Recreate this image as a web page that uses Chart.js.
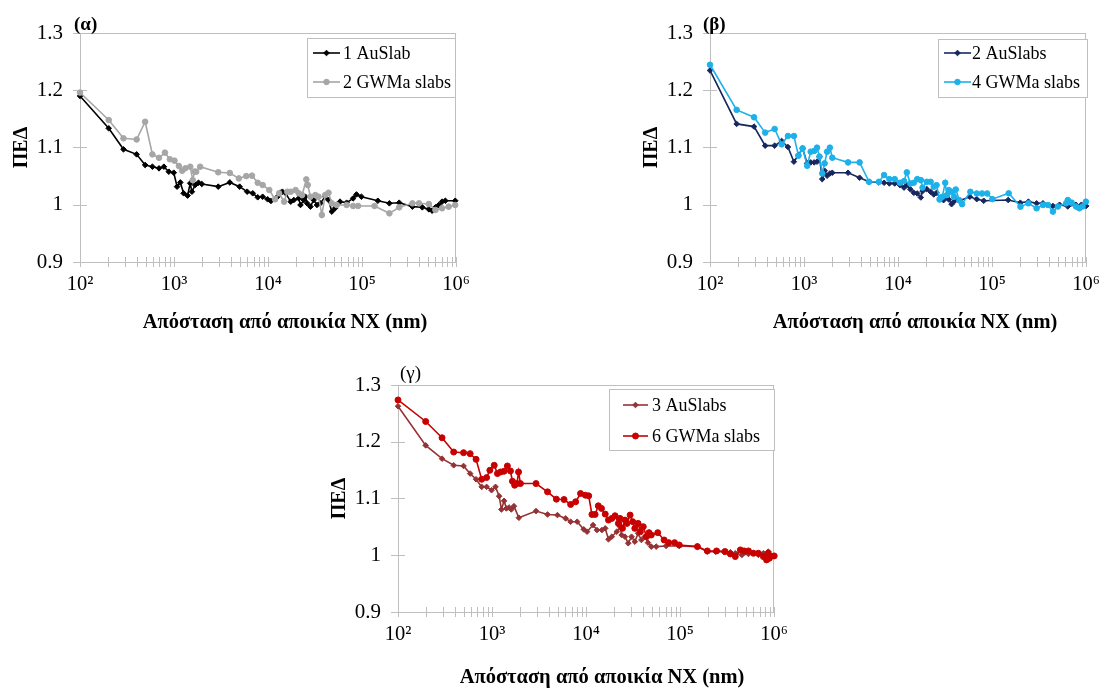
<!DOCTYPE html>
<html><head><meta charset="utf-8">
<script src="https://cdn.jsdelivr.net/npm/chart.js@4.4.1/dist/chart.umd.min.js"></script>
<style>
html,body{margin:0;padding:0;background:#fff;width:1115px;height:688px;overflow:hidden;position:relative;}
.panel{position:absolute;display:block;}
</style></head>
<body>
<canvas id="pa" class="panel" width="480" height="345" style="left:0;top:0;width:480px;height:345px"></canvas>
<canvas id="pb" class="panel" width="480" height="345" style="left:630px;top:0;width:480px;height:345px"></canvas>
<canvas id="pg" class="panel" width="480" height="338" style="left:318px;top:350px;width:480px;height:338px"></canvas>
<script>
// ---------- data ----------
const xMajorTicks = [1e2, 1e3, 1e4, 1e5, 1e6];
const xTickLabels = ['10²', '10³', '10⁴', '10⁵', '10⁶'];
const yMin = 0.9, yMax = 1.3, yStep = 0.1;
const xTitle = 'Απόσταση από αποικία NX (nm)';
const yTitle = 'ΠΕΔ';
const panelLabels = ['(α)', '(β)', '(γ)'];
const seriesNames = ['1 AuSlab', '2 GWMa slabs', '2 AuSlabs', '4 GWMa slabs', '3 AuSlabs', '6 GWMa slabs'];

// (α) 1 AuSlab
const a1x = [100,202,290,400,493,589,692,780,880,993,1077,1166,1265,1393,1486,1549,1679,1820,1972,2951,3916,4980,5995,6870,7760,8750,9890,10720,12600,13500,14200,15400,17400,18800,21200,22100,24000,24900,26000,28200,30500,33100,35900,40500,43900,47600,51500,58200,68400,80300,87100,98200,146900,194800,247900,342500,436200,511900,555600,602100,653000,707400,767000,977000];
const a1y = [1.190,1.1335,1.0968,1.088,1.0694,1.0665,1.0636,1.0665,1.0577,1.056,1.0316,1.039,1.020,1.016,1.0375,1.0228,1.0345,1.0385,1.0362,1.0316,1.039,1.0316,1.0228,1.020,1.013,1.014,1.0095,1.0066,1.014,1.021,1.0228,1.020,1.0054,1.0083,1.0112,0.9996,1.0083,1.0141,1.0025,0.9967,1.0083,0.9996,1.0025,1.0141,1.0083,0.988,0.9938,1.0054,1.0036,1.0112,1.018,1.0141,1.007,1.0025,1.0036,0.9967,0.9955,0.992,0.9896,0.9955,0.9996,1.0054,1.007,1.007];
// (α) 2 GWMa slabs
const a2x = [100,202,290,400,493,589,692,800,903,1010,1125,1220,1318,1486,1580,1650,1720,1895,2951,3916,4890,5860,6740,7760,8750,10300,11870,13100,14800,16000,17400,19600,21200,23000,25500,26400,28200,31800,34400,37300,40500,43900,47600,53700,68400,80300,90600,135500,194800,247900,342500,402500,511900,602100,707400,832000,977000];
const a2y = [1.196,1.148,1.116,1.114,1.145,1.088,1.082,1.091,1.0794,1.077,1.0677,1.0595,1.0637,1.0665,1.043,1.058,1.0577,1.0665,1.0567,1.0555,1.046,1.050,1.0508,1.0385,1.0345,1.0258,1.0095,1.020,1.0054,1.0228,1.0228,1.0257,1.020,1.017,1.0443,1.0344,1.0141,1.017,1.0141,0.9822,1.017,1.021,1.0025,0.9996,0.9996,0.9979,0.9979,0.9979,0.985,0.9955,1.0025,1.0025,1.0013,0.9909,0.9938,0.9967,0.9996];
// (β) 2 AuSlabs
const b1x = [100,192,294,386,487,578,674,780,872,966,1080,1177,1282,1374,1459,1561,1656,1758,1882,1997,2937,3897,4911,6250,7103,8078,9200,10450,11570,12390,13490,14690,16000,17450,18200,20180,22180,23950,25640,27930,30430,32600,34600,37060,39360,41050,44750,57840,68630,81420,148000,199500,243000,297000,347000,443000,521000,637000,780000,890000,1000000];
const b1y = [1.2346,1.1412,1.1365,1.1032,1.1032,1.1114,1.1009,1.0752,1.0869,1.0985,1.0723,1.074,1.074,1.0752,1.084,1.0448,1.0594,1.0507,1.0547,1.0559,1.0559,1.0472,1.0401,1.039,1.0384,1.0372,1.0372,1.0343,1.030,1.0343,1.027,1.0209,1.0197,1.0127,1.0238,1.0273,1.0226,1.018,1.0209,1.0121,1.008,1.0139,1.0092,1.001,1.0057,1.0098,1.0069,1.0139,1.0098,1.0069,1.0083,1.0036,1.0054,1.0025,1.0025,0.9978,1.0,0.997,1.0,1.0,0.998];
// (β) 4 GWMa slabs
const b2x = [100,192,294,386,487,578,674,780,872,966,1080,1177,1282,1374,1459,1561,1656,1758,1882,1997,2937,3897,4911,6250,7103,8078,9200,10450,11570,12390,13490,14690,16000,17450,18200,20180,22180,23950,25640,27600,29500,31700,33000,34600,37060,39360,41050,44750,47900,58700,68630,78000,88600,100600,150000,200000,243000,297000,347000,393000,443000,501000,612000,637000,702000,780000,845000,914000,993000];
const b2y = [1.2445,1.1657,1.1528,1.126,1.1324,1.1055,1.1201,1.1201,1.0857,1.0985,1.0682,1.0927,1.0939,1.0997,1.084,1.0547,1.0723,1.0927,1.0997,1.0822,1.074,1.074,1.0401,1.0401,1.0518,1.0448,1.0448,1.0384,1.0413,1.0565,1.0372,1.0384,1.0448,1.043,1.030,1.0401,1.0401,1.0314,1.0343,1.0092,1.0139,1.0384,1.0168,1.0256,1.0226,1.0139,1.0267,1.008,1.001,1.0226,1.0197,1.0197,1.0197,1.0098,1.020,0.9967,1.0025,0.9938,0.9996,0.9996,0.988,0.997,1.0025,1.0083,1.0037,0.997,0.9938,0.997,1.0054];
// (γ) 3 AuSlabs
const g1x = [100,197,294,391,498,585,676,776,875,988,1089,1190,1259,1343,1420,1514,1602,1709,1928,2935,3892,4957,6064,6846,8043,9446,10240,11850,13060,14730,15970,17310,18760,21170,22950,23900,25900,28070,30420,32970,35740,38740,41990,45510,49330,55660,70920,97900,152700,194500,237800,291000,342000,386000,453600,533000,601800,679000,767000,865000,1000000];
const g1y = [1.2626,1.1936,1.1702,1.1585,1.1573,1.1439,1.1339,1.1205,1.1205,1.1146,1.1205,1.1041,1.0807,1.0959,1.0825,1.0842,1.0807,1.0865,1.0661,1.0778,1.0719,1.0708,1.0649,1.0591,1.0591,1.0456,1.0415,1.0532,1.0444,1.0444,1.0474,1.0281,1.0327,1.0415,1.0503,1.0357,1.0327,1.0211,1.0327,1.024,1.0386,1.0269,1.0327,1.0222,1.0152,1.0152,1.0164,1.0164,1.0152,1.0064,1.0064,1.0064,1.0053,1.0035,1.0006,1.0023,1.0035,1.0006,1.0035,1.0064,0.9988];
// (γ) 6 GWMa slabs
const g2x = [100,197,294,391,498,585,676,776,875,948,1055,1141,1234,1343,1456,1569,1647,1740,1840,1913,2005,2935,3892,4833,5826,6846,7741,8725,9837,10660,11540,12470,13480,14580,15970,17310,18760,20330,22040,22950,24360,25900,27180,29390,31330,32970,35740,37790,40560,43870,46650,49330,57790,67600,75600,87220,97900,152700,194500,244100,300500,342000,386000,437000,479000,533000,601800,679000,767000,830000,865000,890000,1000000];
const g2y = [1.2737,1.2357,1.207,1.1819,1.1807,1.179,1.169,1.1339,1.1368,1.1497,1.1585,1.1439,1.1468,1.148,1.1573,1.1485,1.1304,1.1234,1.1263,1.1468,1.1263,1.1263,1.1117,1.0988,1.0982,1.0895,1.0942,1.1088,1.1058,1.1047,1.0719,1.0719,1.0871,1.0825,1.0725,1.062,1.0649,1.0696,1.0561,1.0649,1.0474,1.062,1.0561,1.0708,1.0591,1.0474,1.0561,1.0415,1.0503,1.0327,1.0398,1.0357,1.0398,1.0269,1.0222,1.0222,1.0181,1.0152,1.0076,1.0076,1.0064,1.0023,0.9977,1.0094,1.0076,1.0076,1.0035,1.0035,0.9977,0.9918,1.0035,0.9947,0.9988];

// ---------- style ----------
const FONT = '"Liberation Serif", "Times New Roman", serif';
const AXIS = '#bfbfbf';

const xTickValues = [];
xMajorTicks.forEach((m, i) => {
  if (i === xMajorTicks.length - 1) { xTickValues.push(m); return; }
  for (let k = 1; k <= 9; k++) xTickValues.push(k * m);
});

function drawMarker(ctx, style, x, y, r, color) {
  ctx.fillStyle = color; ctx.strokeStyle = color; ctx.lineWidth = 1;
  ctx.beginPath();
  if (style === 'rectRot') {
    ctx.moveTo(x, y - r); ctx.lineTo(x + r, y); ctx.lineTo(x, y + r); ctx.lineTo(x - r, y); ctx.closePath();
  } else {
    ctx.arc(x, y, r, 0, Math.PI * 2);
  }
  ctx.fill(); ctx.stroke();
}

const decor = {
  id: 'decor',
  beforeDatasetsDraw(chart, args, o) {
    const {ctx, chartArea: a, scales: {x, y}} = chart;
    ctx.save();
    ctx.strokeStyle = AXIS; ctx.lineWidth = 1;
    ctx.beginPath();
    ctx.moveTo(a.left, Math.round(a.top) + 0.5); ctx.lineTo(a.right, Math.round(a.top) + 0.5);
    ctx.moveTo(Math.round(a.right) - 0.5, a.top); ctx.lineTo(Math.round(a.right) - 0.5, a.bottom);
    x.ticks.forEach(t => {
      const px = Math.round(x.getPixelForValue(t.value)) + 0.5;
      ctx.moveTo(px, a.bottom - 5); ctx.lineTo(px, a.bottom + 5);
    });
    y.ticks.forEach(t => {
      const py = Math.round(y.getPixelForValue(t.value)) + 0.5;
      ctx.moveTo(a.left - 7, py); ctx.lineTo(a.left + 7, py);
    });
    ctx.stroke();
    ctx.restore();
  },
  afterDraw(chart, args, o) {
    const {ctx} = chart;
    ctx.save();
    ctx.fillStyle = '#000';
    ctx.font = o.labelWeight + ' 19px ' + FONT;
    ctx.textAlign = 'left'; ctx.textBaseline = 'middle';
    ctx.fillText(o.label, o.labelX, o.labelY);
    ctx.font = 'bold 20.5px ' + FONT;
    ctx.textAlign = 'center';
    ctx.fillText(xTitle, o.titleX, o.titleY);
    const L = o.legend;
    ctx.fillStyle = '#fff'; ctx.fillRect(L.x, L.y, L.w, L.h);
    ctx.strokeStyle = AXIS; ctx.lineWidth = 1;
    ctx.strokeRect(L.x + 0.5, L.y + 0.5, L.w, L.h);
    chart.data.datasets.forEach((d, i) => {
      const cy = L.y + L.rows[i];
      const x0 = L.x + L.sx, x1 = x0 + L.sl;
      ctx.strokeStyle = d.borderColor; ctx.lineWidth = d.borderWidth;
      ctx.beginPath(); ctx.moveTo(x0, cy); ctx.lineTo(x1, cy); ctx.stroke();
      drawMarker(ctx, d.pointStyle, (x0 + x1) / 2, cy, d.pointRadius, d.borderColor);
      ctx.fillStyle = '#000';
      ctx.font = '18px ' + FONT; ctx.textAlign = 'left'; ctx.textBaseline = 'middle';
      ctx.fillText(d.label, L.x + L.tx, cy + 1);
    });
    ctx.restore();
  }
};

function makeChart(id, cfg) {
  const datasets = cfg.series.map((s, i) => ({
    label: s.name,
    data: s.x.map((v, k) => ({x: v, y: s.y[k]})),
    borderColor: s.color, backgroundColor: s.color,
    pointBackgroundColor: s.color, pointBorderColor: s.color,
    pointStyle: s.marker, pointRadius: s.r, pointBorderWidth: 1,
    borderWidth: 1.6, tension: 0, clip: false, order: cfg.series.length - i
  }));
  return new Chart(document.getElementById(id), {
    type: 'line',
    data: {datasets},
    plugins: [decor],
    options: {
      responsive: false, animation: false, devicePixelRatio: 1,
      layout: {padding: {top: cfg.top, right: cfg.right, left: 0, bottom: 0}},
      plugins: {
        legend: {display: false}, tooltip: {enabled: false},
        decor: cfg.decor
      },
      scales: {
        x: {
          type: 'logarithmic', min: xMajorTicks[0], max: xMajorTicks[xMajorTicks.length - 1],
          afterBuildTicks: s => { s.ticks = xTickValues.map(v => ({value: v})); },
          afterFit: s => { s.height = cfg.xh; },
          grid: {display: false, drawTicks: false},
          border: {display: true, color: AXIS, width: 1},
          ticks: {
            autoSkip: false, maxRotation: 0, minRotation: 0, padding: 10,
            font: {family: FONT, size: 20.5}, color: '#000',
            callback: v => { const i = xMajorTicks.indexOf(v); return i >= 0 ? xTickLabels[i] : ''; }
          }
        },
        y: {
          min: yMin, max: yMax,
          afterFit: s => { s.width = 80; },
          grid: {display: false, drawTicks: false},
          border: {display: true, color: AXIS, width: 1},
          ticks: {
            stepSize: yStep, padding: 17, font: {family: FONT, size: 21}, color: '#000',
            callback: v => String(Number(v.toFixed(1)))
          },
          title: {display: true, text: yTitle, color: '#000', font: {family: FONT, size: 20, weight: 'bold'}, padding: {top: 10, bottom: 0}}
        }
      }
    }
  });
}

makeChart('pa', {
  top: 33, right: 19, xh: 83,
  series: [
    {name: seriesNames[0], x: a1x, y: a1y, color: '#000000', marker: 'rectRot', r: 2.8},
    {name: seriesNames[1], x: a2x, y: a2y, color: '#a6a6a6', marker: 'circle', r: 2.8}
  ],
  decor: {label: panelLabels[0], labelWeight: 'bold', labelX: 74, labelY: 25, titleX: 285, titleY: 323,
    legend: {x: 307, y: 38, w: 148, h: 59, rows: [15, 44], sx: 6, sl: 27, tx: 36}}
});
makeChart('pb', {
  top: 33, right: 18, xh: 83,
  series: [
    {name: seriesNames[2], x: b1x, y: b1y, color: '#17275e', marker: 'rectRot', r: 2.8},
    {name: seriesNames[3], x: b2x, y: b2y, color: '#1db1ea', marker: 'circle', r: 2.8}
  ],
  decor: {label: panelLabels[1], labelWeight: 'bold', labelX: 73, labelY: 25, titleX: 285, titleY: 323,
    legend: {x: 308, y: 39, w: 149, h: 58, rows: [14, 43], sx: 6, sl: 27, tx: 34}}
});
makeChart('pg', {
  top: 35, right: 19, xh: 76,
  series: [
    {name: seriesNames[4], x: g1x, y: g1y, color: '#953234', marker: 'rectRot', r: 2.8},
    {name: seriesNames[5], x: g2x, y: g2y, color: '#c80000', marker: 'circle', r: 3}
  ],
  decor: {label: panelLabels[2], labelWeight: 'normal', labelX: 82, labelY: 24, titleX: 284, titleY: 328,
    legend: {x: 291, y: 39, w: 165, h: 61, rows: [16, 47], sx: 14, sl: 25, tx: 43}}
});
</script>
</body></html>
